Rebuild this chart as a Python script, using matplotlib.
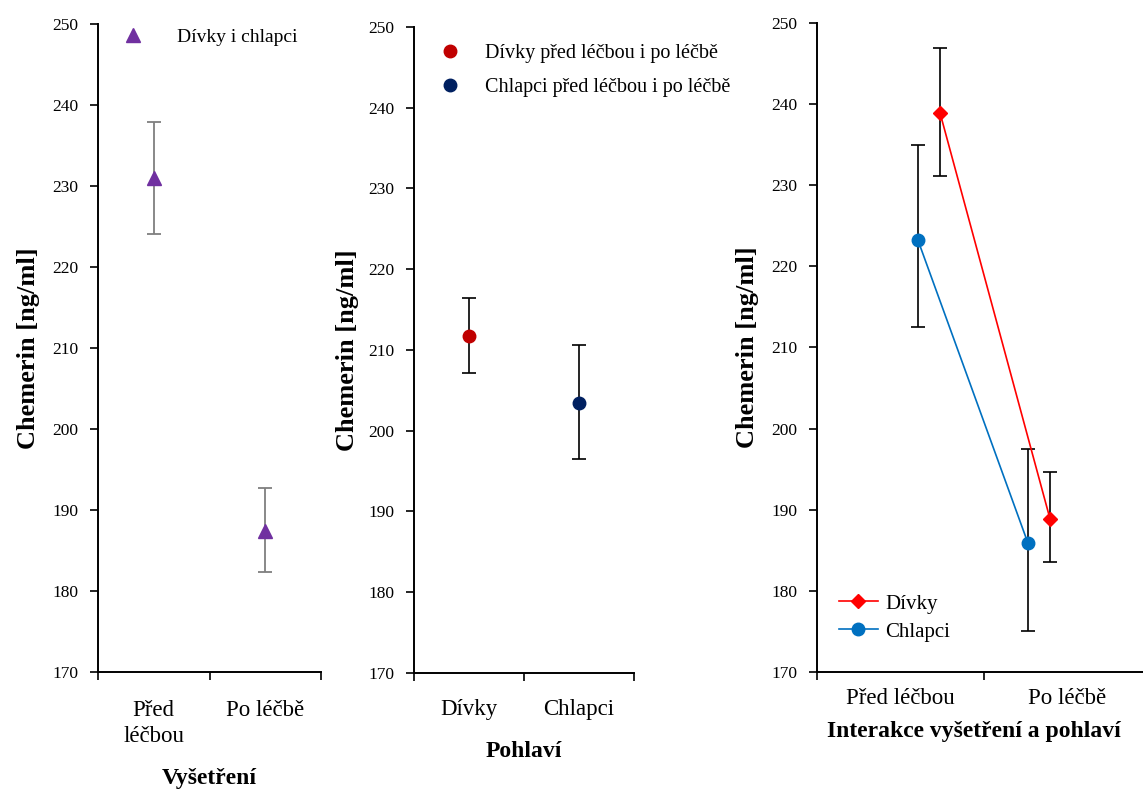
import matplotlib
matplotlib.use("Agg")
import matplotlib.pyplot as plt
import numpy as np

plt.rcParams['font.family'] = ['Liberation Serif', 'DejaVu Serif']

# ---------- data ----------
yticks = [170, 180, 190, 200, 210, 220, 230, 240, 250]
ylabel = "Chemerin [ng/ml]"

# Panel 1: examination
p1_cats = ["Před\nléčbou", "Po léčbě"]
p1_mean = [231.0, 187.4]
p1_low = [224.1, 182.4]
p1_high = [237.9, 192.7]
p1_legend = "Dívky i chlapci"
p1_xlabel = "Vyšetření"

# Panel 2: sex
p2_cats = ["Dívky", "Chlapci"]
p2_mean = [211.7, 203.4]
p2_low = [207.2, 196.5]
p2_high = [216.4, 210.6]
p2_legend = ["Dívky před léčbou i po léčbě", "Chlapci před léčbou i po léčbě"]
p2_xlabel = "Pohlaví"

# Panel 3: interaction
p3_cats = ["Před léčbou", "Po léčbě"]
girls_mean = [238.9, 188.9]
girls_low = [231.1, 183.6]
girls_high = [246.9, 194.6]
boys_mean = [223.2, 185.9]
boys_low = [212.5, 175.1]
boys_high = [235.0, 197.5]
p3_series = ["Dívky", "Chlapci"]
p3_xlabel = "Interakce vyšetření a pohlaví"

# ---------- figure ----------
fig = plt.figure(figsize=(11.43, 7.89), dpi=100)
W, H = 1143, 789

def axes_px(l, r, t, b):
    return fig.add_axes([l / W, 1 - b / H, (r - l) / W, (b - t) / H])

ax1 = axes_px(98, 321, 24, 672)
ax2 = axes_px(414, 634, 27, 673)
ax3 = axes_px(817, 1151, 23, 672)

tick_fs = 12.5
cat_fs = 16.5
xlab_fs = 17
ylab_fs = 19
for ax in (ax1, ax2, ax3):
    ax.set_ylim(170, 250)
    ax.set_xlim(0, 2)
    ax.set_yticks(yticks)
    ax.tick_params(axis='y', direction='out', length=6, width=1.2, labelsize=tick_fs, pad=8)
    ax.set_xticks([0, 1, 2])
    ax.set_xticklabels([])
    ax.tick_params(axis='x', which='major', direction='out', length=6, width=1.2)
    ax.tick_params(axis='x', which='minor', length=0, labelsize=cat_fs)
    for s in ('top', 'right'):
        ax.spines[s].set_visible(False)
    for s in ('left', 'bottom'):
        ax.spines[s].set_linewidth(1.4)
    ax.set_ylabel(ylabel, fontsize=ylab_fs, fontweight='bold')

ax1.yaxis.set_label_coords(-0.258, 0.5)
ax2.yaxis.set_label_coords(-0.25, 0.5)
ax3.yaxis.set_label_coords(-0.174, 0.5)

# ---- Panel 1
x1 = np.array([0.5, 1.5])
m = np.array(p1_mean)
ax1.errorbar(x1, m, yerr=[m - np.array(p1_low), np.array(p1_high) - m], fmt='none',
             ecolor='#7f7f7f', elinewidth=1.3, capsize=5, capthick=1.3)
ax1.plot(x1, m, linestyle='none', marker='^', markersize=10, color='#7030A0', label=p1_legend)
ax1.set_xticks(x1, minor=True)
ax1.set_xticklabels(p1_cats, minor=True, linespacing=1.35)
ax1.tick_params(axis='x', which='minor', pad=20)
ax1.set_xlabel(p1_xlabel, fontsize=xlab_fs, fontweight='bold', labelpad=15)
ax1.legend(loc='upper left', bbox_to_anchor=(0.034, 1.005), frameon=False, fontsize=14,
           handlelength=2.0, handletextpad=1.26, borderaxespad=0, numpoints=1)

# ---- Panel 2
x2 = np.array([0.5, 1.5])
m = np.array(p2_mean)
ax2.errorbar(x2, m, yerr=[m - np.array(p2_low), np.array(p2_high) - m], fmt='none',
             ecolor='black', elinewidth=1.2, capsize=5, capthick=1.2)
cols2 = ['#C00000', '#002060']
for i in range(2):
    ax2.plot([x2[i]], [m[i]], linestyle='none', marker='o', markersize=9, color=cols2[i],
             label=p2_legend[i])
ax2.set_xticks(x2, minor=True)
ax2.set_xticklabels(p2_cats, minor=True)
ax2.tick_params(axis='x', which='minor', pad=19)
ax2.set_xlabel(p2_xlabel, fontsize=xlab_fs, fontweight='bold', labelpad=15)
ax2.legend(loc='upper left', bbox_to_anchor=(0.035, 0.986), frameon=False, fontsize=14.5,
           handlelength=2.0, handletextpad=0.75, borderaxespad=0, numpoints=1, labelspacing=0.75)

# ---- Panel 3
xg = np.array([0.737, 1.395])
xb = np.array([0.605, 1.263])
mg = np.array(girls_mean)
mb = np.array(boys_mean)
ax3.errorbar(xb, mb, yerr=[mb - np.array(boys_low), np.array(boys_high) - mb], fmt='none',
             ecolor='black', elinewidth=1.2, capsize=5, capthick=1.2, zorder=2)
ax3.errorbar(xg, mg, yerr=[mg - np.array(girls_low), np.array(girls_high) - mg], fmt='none',
             ecolor='black', elinewidth=1.2, capsize=5, capthick=1.2, zorder=2)
ax3.plot(xg, mg, color='#FF0000', marker='D', markersize=7, linewidth=1.2, label=p3_series[0], zorder=3)
ax3.plot(xb, mb, color='#0070C0', marker='o', markersize=9, linewidth=1.2, label=p3_series[1], zorder=3)
ax3.set_xticks([0.5, 1.5], minor=True)
ax3.set_xticklabels(p3_cats, minor=True)
ax3.tick_params(axis='x', which='minor', pad=11.5)
ax3.set_xlabel(p3_xlabel, fontsize=xlab_fs, fontweight='bold', labelpad=9, x=0.47)
ax3.legend(loc='upper left', bbox_to_anchor=(0.04, 0.133), frameon=False, fontsize=15,
           handlelength=1.9, handletextpad=0.35, borderaxespad=0, labelspacing=0.4)

fig.savefig("out.png", dpi=100)
